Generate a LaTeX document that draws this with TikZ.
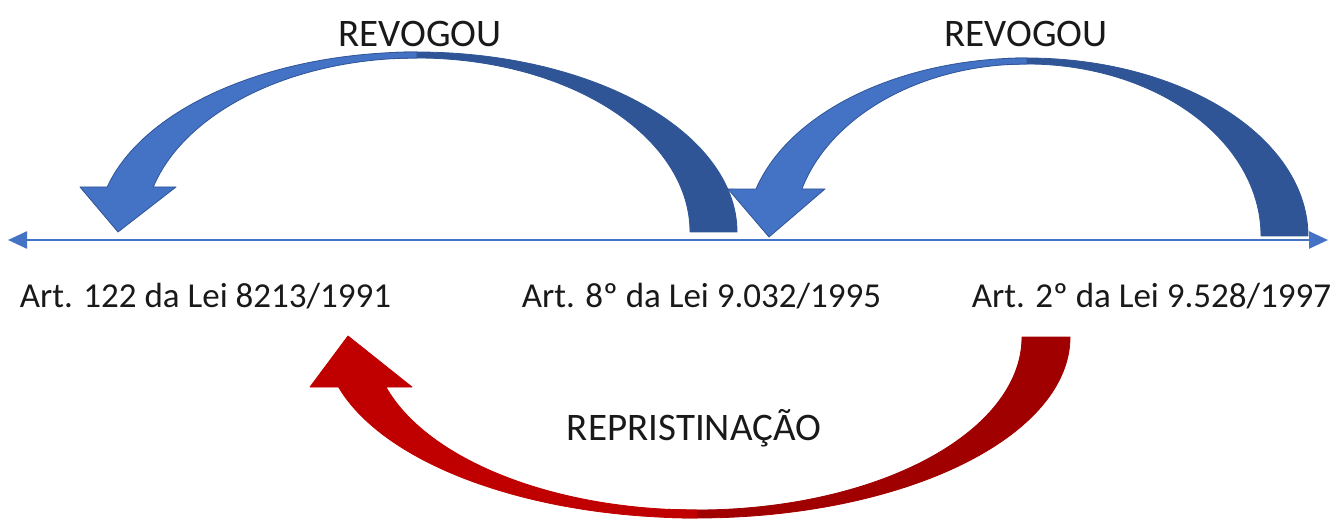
\documentclass[tikz,border=0pt]{standalone}
\usepackage{fontspec}
\setmainfont{Carlito}
\usetikzlibrary{arrows.meta, calc}
\definecolor{lightblue}{HTML}{4472C4}
\definecolor{darkblue}{HTML}{2F5597}
\definecolor{lightred}{HTML}{C00000}
\definecolor{darkred}{HTML}{A00000}

\begin{document}
\begin{tikzpicture}[x=1pt, y=1pt,
  lbl/.style = {anchor=base, inner sep=0pt, text=black!90, font=\fontsize{35}{42}\selectfont},
  tag/.style = {anchor=base, inner sep=0pt, text=black!90, font=\fontsize{39}{47}\selectfont},
  band/.style = {line width=0.8pt, line join=round},
  axistip/.tip = {Triangle[length=19pt, width=17pt]}]
\useasboundingbox (0,0) rectangle (1333,520);

% time line
\coordinate (L) at (8,280);
\coordinate (R) at (1328,280);
\draw[lightblue, line width=2.5pt, axistip-axistip] (L) -- (R);

% first REVOGOU arrow
\coordinate (c1) at (417,288);
\filldraw[band, fill=darkblue, draw=darkblue] (737,288)
  arc[start angle=0, end angle=95, x radius=320, y radius=180]
  -- ($(c1)+(95:273 and 174)$)
  arc[start angle=95, end angle=0, x radius=273, y radius=174] -- cycle;
\filldraw[band, fill=lightblue, draw=darkblue] (417,468)
  arc[start angle=90, end angle=165.52, x radius=320, y radius=180]
  -- (80,333) -- (118,288) -- (176,333) -- (153.3,333)
  arc[start angle=165.01, end angle=90, x radius=273, y radius=174] -- cycle;

% second REVOGOU arrow
\coordinate (c2) at (1027,284);
\filldraw[band, fill=darkblue, draw=darkblue] (1308,284)
  arc[start angle=0, end angle=95, x radius=281, y radius=178]
  -- ($(c2)+(95:234 and 172)$)
  arc[start angle=95, end angle=0, x radius=234, y radius=172] -- cycle;
\filldraw[band, fill=lightblue, draw=darkblue] (1027,462)
  arc[start angle=90, end angle=164.69, x radius=281, y radius=178]
  -- (728,331) -- (769,283) -- (825,331) -- (801.9,331)
  arc[start angle=164.14, end angle=90, x radius=234, y radius=172] -- cycle;

% REPRISTINACAO arrow
\coordinate (c3) at (697,183);
\filldraw[band, fill=darkred, draw=darkred] (1070,183)
  arc[start angle=0, end angle=-95, x radius=373, y radius=181]
  -- ($(c3)+(-95:325 and 173)$)
  arc[start angle=-95, end angle=0, x radius=325, y radius=173] -- cycle;
\filldraw[band, fill=lightred, draw=lightred] (697,2)
  arc[start angle=-90, end angle=-163.96, x radius=373, y radius=181]
  -- (310,133) -- (348,184) -- (412,133) -- (385.9,133)
  arc[start angle=-163.2, end angle=-90, x radius=325, y radius=173] -- cycle;

% texts
\node[tag] (rev1) at (420,473) {REVOGOU};
\node[tag] (rev2) at (1026,473) {REVOGOU};
\node[tag] (rep) at (694,80) {REPRISTINAÇÃO};
\node[lbl] (1) at (205.5,212) {Art. 122 da Lei 8213/1991};
\node[lbl] (2) at (701.5,212) {Art. 8º da Lei 9.032/1995};
\node[lbl] (3) at (1151.5,212) {Art. 2º da Lei 9.528/1997};
\end{tikzpicture}
\end{document}
